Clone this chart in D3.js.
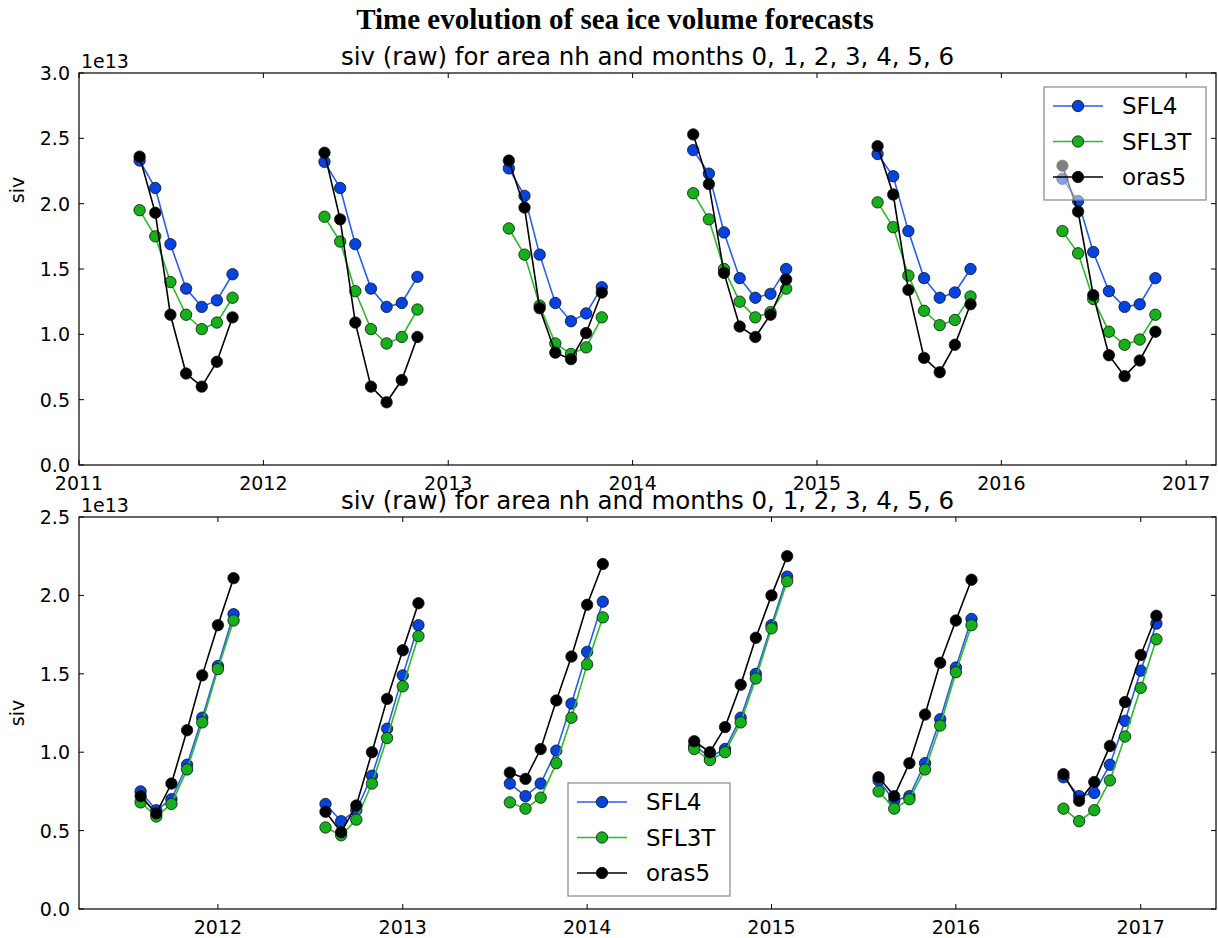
<!DOCTYPE html>
<html>
<head>
<meta charset="utf-8">
<script src="https://cdn.jsdelivr.net/npm/d3@7"></script>
<style>
  body { margin: 0; background: #fff; }
  svg text { font-family: "DejaVu Sans", sans-serif; fill: #000; }
</style>
</head>
<body>
<div id="app"></div>
<script>
const seriesNames = ['SFL4', 'SFL3T', 'oras5'];
const startYears = [2011, 2012, 2013, 2014, 2015, 2016];

// top panel: forecasts starting in May (months May..Nov), values in 1e13
const topStartMonth = 4;
const sfl4Top = [
  [2.33, 2.12, 1.69, 1.35, 1.21, 1.26, 1.46],
  [2.32, 2.12, 1.69, 1.35, 1.21, 1.24, 1.44],
  [2.27, 2.06, 1.61, 1.24, 1.10, 1.16, 1.36],
  [2.41, 2.23, 1.78, 1.43, 1.28, 1.31, 1.50],
  [2.38, 2.21, 1.79, 1.43, 1.28, 1.32, 1.50],
  [2.19, 2.02, 1.63, 1.33, 1.21, 1.23, 1.43]
];
const sfl3tTop = [
  [1.95, 1.75, 1.40, 1.15, 1.04, 1.09, 1.28],
  [1.90, 1.71, 1.33, 1.04, 0.93, 0.98, 1.19],
  [1.81, 1.61, 1.22, 0.93, 0.85, 0.90, 1.13],
  [2.08, 1.88, 1.50, 1.25, 1.13, 1.17, 1.35],
  [2.01, 1.82, 1.45, 1.18, 1.07, 1.11, 1.29],
  [1.79, 1.62, 1.27, 1.02, 0.92, 0.96, 1.15]
];
const orasTop = [
  [2.36, 1.93, 1.15, 0.70, 0.60, 0.79, 1.13],
  [2.39, 1.88, 1.09, 0.60, 0.48, 0.65, 0.98],
  [2.33, 1.97, 1.20, 0.86, 0.81, 1.01, 1.32],
  [2.53, 2.15, 1.47, 1.06, 0.98, 1.15, 1.42],
  [2.44, 2.07, 1.34, 0.82, 0.71, 0.92, 1.23],
  [2.29, 1.94, 1.30, 0.84, 0.68, 0.80, 1.02]
];

// bottom panel: forecasts starting in August (months Aug..Feb)
const botStartMonth = 7;
const sfl4Bot = [
  [0.75, 0.63, 0.70, 0.92, 1.22, 1.55, 1.88],
  [0.67, 0.56, 0.63, 0.85, 1.15, 1.49, 1.81],
  [0.80, 0.72, 0.80, 1.01, 1.31, 1.64, 1.96],
  [1.04, 0.97, 1.02, 1.22, 1.50, 1.81, 2.12],
  [0.82, 0.69, 0.72, 0.93, 1.21, 1.54, 1.85],
  [0.84, 0.72, 0.74, 0.92, 1.20, 1.52, 1.82]
];
const sfl3tBot = [
  [0.68, 0.59, 0.67, 0.89, 1.19, 1.53, 1.84],
  [0.52, 0.47, 0.57, 0.80, 1.09, 1.42, 1.74],
  [0.68, 0.64, 0.71, 0.93, 1.22, 1.56, 1.86],
  [1.02, 0.95, 1.00, 1.19, 1.47, 1.79, 2.09],
  [0.75, 0.64, 0.70, 0.89, 1.17, 1.51, 1.81],
  [0.64, 0.56, 0.63, 0.82, 1.10, 1.41, 1.72]
];
const orasBot = [
  [0.72, 0.61, 0.80, 1.14, 1.49, 1.81, 2.11],
  [0.62, 0.49, 0.66, 1.00, 1.34, 1.65, 1.95],
  [0.87, 0.83, 1.02, 1.33, 1.61, 1.94, 2.20],
  [1.07, 1.00, 1.16, 1.43, 1.73, 2.00, 2.25],
  [0.84, 0.72, 0.93, 1.24, 1.57, 1.84, 2.10],
  [0.86, 0.69, 0.81, 1.04, 1.32, 1.62, 1.87]
];

const topYTicks = [0, 0.5, 1, 1.5, 2, 2.5, 3];
const botYTicks = [0, 0.5, 1, 1.5, 2, 2.5];

const colors = ['#0343df', '#15b01a', '#000000'];
const lineColors = ['#2a5ee8', '#2fb82f', '#000000'];

const width = 1218;
const height = 938;

const svg = d3.select('#app')
  .append('svg')
  .attr('width', width)
  .attr('height', height)

svg.append('text')
  .attr('x', 615)
  .attr('y', 29)
  .attr('text-anchor', 'middle')
  .style('font-family', '"Liberation Serif", "Times New Roman", serif')
  .style('font-weight', 'bold')
  .style('font-size', '29px')
  .text('Time evolution of sea ice volume forecasts')

function toSeries(values, startMonth) {
  // one array of {date, v} per start year
  return values.map((row, i) => row.map((v, m) => ({
    date: new Date(Date.UTC(startYears[i], startMonth + m, 1)),
    v: v
  })))
}

function drawPanel(cfg) {
  const x = d3.scaleUtc().domain(cfg.xDomain).range([cfg.left, cfg.right]);
  const y = d3.scaleLinear().domain([0, cfg.yMax]).range([cfg.bottom, cfg.top]);

  const g = svg.append('g');

  // series
  cfg.series.forEach((s, si) => {
    const sg = g.append('g');
    const line = d3.line().x(d => x(d.date)).y(d => y(d.v));
    s.forEach(seg => {
      sg.append('path')
        .attr('d', line(seg))
        .attr('fill', 'none')
        .attr('stroke', lineColors[si])
        .attr('stroke-width', 1.6)
    })
    s.forEach(seg => {
      sg.selectAll(null)
        .data(seg)
        .enter()
        .append('circle')
        .attr('cx', d => x(d.date))
        .attr('cy', d => y(d.v))
        .attr('r', 5.7)
        .attr('fill', colors[si])
        .attr('stroke', '#111')
        .attr('stroke-width', 0.8)
    })
  })

  // frame
  g.append('rect')
    .attr('x', cfg.left)
    .attr('y', cfg.top)
    .attr('width', cfg.right - cfg.left)
    .attr('height', cfg.bottom - cfg.top)
    .attr('fill', 'none')
    .attr('stroke', '#000')
    .attr('stroke-width', 1.2)

  // x axis: ticks inside, on bottom and top
  const xTicks = x.ticks(d3.utcYear.every(1));
  const fmt = d3.utcFormat('%Y');
  const xa = g.append('g');
  xTicks.forEach(t => {
    const px = x(t);
    xa.append('line').attr('x1', px).attr('x2', px)
      .attr('y1', cfg.bottom).attr('y2', cfg.bottom - 5).attr('stroke', '#000');
    xa.append('line').attr('x1', px).attr('x2', px)
      .attr('y1', cfg.top).attr('y2', cfg.top + 5).attr('stroke', '#000');
    xa.append('text')
      .attr('x', px)
      .attr('y', cfg.bottom + 25)
      .attr('text-anchor', 'middle')
      .style('font-size', '19px')
      .text(fmt(t))
  })

  // y axis: ticks inside, on left and right
  const ya = g.append('g');
  cfg.yTicks.forEach(t => {
    const py = y(t);
    ya.append('line').attr('x1', cfg.left).attr('x2', cfg.left + 5)
      .attr('y1', py).attr('y2', py).attr('stroke', '#000');
    ya.append('line').attr('x1', cfg.right).attr('x2', cfg.right - 5)
      .attr('y1', py).attr('y2', py).attr('stroke', '#000');
    ya.append('text')
      .attr('x', cfg.left - 9)
      .attr('y', py + 7)
      .attr('text-anchor', 'end')
      .style('font-size', '19px')
      .text(d3.format('.1f')(t))
  })

  g.append('text')
    .attr('x', cfg.left + 2)
    .attr('y', cfg.top - 5)
    .style('font-size', '19px')
    .text('1e13')

  g.append('text')
    .attr('x', (cfg.left + cfg.right) / 2)
    .attr('y', cfg.top - 8)
    .attr('text-anchor', 'middle')
    .style('font-size', '24.5px')
    .text('siv (raw) for area nh and months 0, 1, 2, 3, 4, 5, 6')

  g.append('text')
    .attr('transform', `translate(24, ${cfg.yLabelY}) rotate(-90)`)
    .attr('text-anchor', 'middle')
    .style('font-size', '19px')
    .text('siv')

  // legend
  const lg = g.append('g').attr('transform', `translate(${cfg.legend[0]}, ${cfg.legend[1]})`);
  lg.append('rect')
    .attr('width', 162)
    .attr('height', 113)
    .attr('fill', 'rgba(255,255,255,0.5)')
    .attr('stroke', '#888')
    .attr('stroke-width', 1.2)
  seriesNames.forEach((name, i) => {
    const ly = 19 + i * 35.5;
    lg.append('line')
      .attr('x1', 9).attr('x2', 59)
      .attr('y1', ly).attr('y2', ly)
      .attr('stroke', lineColors[i])
      .attr('stroke-width', 1.6)
    lg.append('circle')
      .attr('cx', 34).attr('cy', ly).attr('r', 5.7)
      .attr('fill', colors[i])
      .attr('stroke', '#111')
      .attr('stroke-width', 0.8)
    lg.append('text')
      .attr('x', 78)
      .attr('y', ly + 8)
      .style('font-size', '23px')
      .text(name)
  })
}

drawPanel({
  left: 79, right: 1216, top: 73, bottom: 465,
  xDomain: [new Date(Date.UTC(2011, 0, 1)), new Date(Date.UTC(2017, 2, 1))],
  yMax: 3, yTicks: topYTicks, yLabelY: 190,
  series: [toSeries(sfl4Top, topStartMonth), toSeries(sfl3tTop, topStartMonth), toSeries(orasTop, topStartMonth)],
  legend: [1044, 87]
})

drawPanel({
  left: 79, right: 1216, top: 517, bottom: 909,
  xDomain: [new Date(Date.UTC(2011, 3, 1)), new Date(Date.UTC(2017, 4, 30))],
  yMax: 2.5, yTicks: botYTicks, yLabelY: 713,
  series: [toSeries(sfl4Bot, botStartMonth), toSeries(sfl3tBot, botStartMonth), toSeries(orasBot, botStartMonth)],
  legend: [568, 783]
})
</script>
</body>
</html>
